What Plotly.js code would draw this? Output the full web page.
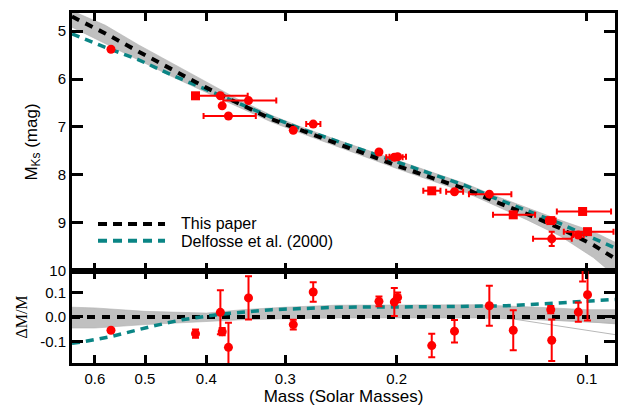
<!DOCTYPE html>
<html><head><meta charset="utf-8">
<script src="https://cdn.plot.ly/plotly-3.0.1.min.js"></script>
<style>html,body{margin:0;padding:0;background:#fff}</style>
</head><body><div id="chart" style="width:618px;height:411px"></div>
<script>
// ---- observed binaries ----
const obsMass     = [0.566, 0.416, 0.380, 0.3775, 0.369, 0.343, 0.2914, 0.271, 0.2133, 0.2017, 0.1993, 0.176, 0.162, 0.1427, 0.1308, 0.1141, 0.1137, 0.1032, 0.1016, 0.0998];
const obsMassErr  = [0.0, 0.004, 0.036, 0.0, 0.035, 0.033, 0.0, 0.007, 0.0, 0.006, 0.006, 0.0055, 0.005, 0.011, 0.010, 0.002, 0.008, 0.002, 0.010, 0.009];
const obsMks      = [5.38, 6.35, 6.35, 6.56, 6.77, 6.45, 7.07, 6.94, 7.52, 7.63, 7.62, 8.33, 8.35, 8.40, 8.83, 8.95, 9.33, 9.25, 8.76, 9.18];
const obsMksErr   = [0, 0, 0, 0, 0, 0, 0, 0, 0, 0, 0, 0, 0, 0, 0, 0, 0.15, 0, 0, 0];
const obsSymbol   = ['circle','square','circle','circle','circle','circle','circle','circle','circle','circle','circle','square','circle','circle','square','square','circle','circle','square','square'];
const obsResid    = [-0.054, -0.068, 0.019, -0.060, -0.124, 0.078, -0.031, 0.102, 0.064, 0.061, 0.080, -0.117, -0.058, 0.046, -0.054, 0.030, -0.095, 0.020, 0.22, 0.091];
const obsResidErr = [0.005, 0.017, 0.090, 0.015, 0.100, 0.088, 0.020, 0.040, 0.020, 0.057, 0.020, 0.048, 0.046, 0.082, 0.082, 0.015, 0.085, 0.039, 0.075, 0.105];

// ---- mass-luminosity relations (top panel) ----
const relMass      = [0.6523, 0.5778, 0.5117, 0.4531, 0.4016, 0.3554, 0.3150, 0.2843, 0.2519, 0.2231, 0.1975, 0.1750, 0.1550, 0.1406, 0.1246, 0.1103, 0.0977, 0.0903];
const thisPaperMks = [4.70, 5.05, 5.43, 5.80, 6.17, 6.51, 6.84, 7.06, 7.32, 7.57, 7.83, 8.07, 8.30, 8.54, 8.81, 9.11, 9.46, 9.74];
const delfosseMks  = [5.06, 5.34, 5.60, 5.92, 6.21, 6.51, 6.80, 7.03, 7.27, 7.51, 7.76, 8.00, 8.23, 8.47, 8.73, 9.01, 9.32, 9.52];
const bandMksUpper = [4.58, 4.88, 5.29, 5.67, 6.06, 6.43, 6.76, 6.99, 7.24, 7.48, 7.72, 7.96, 8.19, 8.42, 8.68, 8.94, 9.18, 9.40];
const bandMksLower = [4.92, 5.26, 5.60, 5.95, 6.27, 6.58, 6.90, 7.12, 7.38, 7.63, 7.89, 8.13, 8.37, 8.62, 8.93, 9.27, 9.72, 10.10];

// ---- residuals (bottom panel) ----
const resBandMass  = [0.6523, 0.60, 0.50, 0.40, 0.35, 0.30, 0.25, 0.20, 0.15, 0.12, 0.10, 0.0903];
const resBandUpper = [0.040, 0.037, 0.023, 0.016, 0.030, 0.040, 0.048, 0.050, 0.050, 0.040, 0.030, 0.030];
const resBandLower = [-0.045, -0.045, -0.031, -0.018, -0.011, -0.007, -0.004, -0.004, -0.004, -0.011, -0.018, -0.028];
const resZeroMass  = [0.6523, 0.0903];
const resZero      = [0.0, 0.0];
const resDelMass   = [0.6523, 0.6289, 0.5638, 0.4875, 0.4370, 0.3779, 0.3150, 0.2459, 0.1708, 0.1340, 0.1117, 0.0903];
const resDelfosse  = [-0.107, -0.102, -0.079, -0.038, -0.011, 0.012, 0.030, 0.040, 0.042, 0.046, 0.057, 0.072];
const resThinMass  = [0.134, 0.0903];
const resThinA     = [-0.004, -0.072];
const resThinB     = [-0.004, -0.026];

const xTicks = [0.6, 0.5, 0.4, 0.3, 0.2, 0.1];
const xTickText = ['0.6', '0.5', '0.4', '0.3', '0.2', '0.1'];
const yTicks = [5, 6, 7, 8, 9, 10];
const y2Ticks = [-0.1, 0.0, 0.1];
const y2TickText = ['-0.1', '0.0', '0.1'];

const RED = '#ff0000', TEAL = '#0a8585', GREY = '#c0c0c0';
const FONT = 'Liberation Sans, Arial, Helvetica, sans-serif';

const traces = [
  {x: relMass, y: bandMksLower, xaxis:'x', yaxis:'y', mode:'lines', line:{width:0.6, color:'#b0b0b0'}, hoverinfo:'skip'},
  {x: relMass, y: bandMksUpper, xaxis:'x', yaxis:'y', mode:'lines', fill:'tonexty', fillcolor:GREY, line:{width:0.6, color:'#b0b0b0'}, hoverinfo:'skip'},
  {x: relMass, y: delfosseMks, xaxis:'x', yaxis:'y', mode:'lines', line:{color:TEAL, width:3.5, dash:'8px,6px'}},
  {x: relMass, y: thisPaperMks, xaxis:'x', yaxis:'y', mode:'lines', line:{color:'black', width:4, dash:'8px,7px'}},
  {x: obsMass, y: obsMks, xaxis:'x', yaxis:'y', mode:'markers',
   marker:{color:RED, size:9, symbol:obsSymbol},
   error_x:{type:'data', array:obsMassErr, color:RED, thickness:2, width:3},
   error_y:{type:'data', array:obsMksErr, color:RED, thickness:2, width:3}},

  {x: resBandMass, y: resBandLower, xaxis:'x2', yaxis:'y2', mode:'lines', line:{width:0.6, color:'#b0b0b0'}, hoverinfo:'skip'},
  {x: resBandMass, y: resBandUpper, xaxis:'x2', yaxis:'y2', mode:'lines', fill:'tonexty', fillcolor:GREY, line:{width:0.6, color:'#b0b0b0'}, hoverinfo:'skip'},
  {x: resThinMass, y: resThinA, xaxis:'x2', yaxis:'y2', mode:'lines', line:{width:1, color:'#b8b8b8'}},
  {x: resThinMass, y: resThinB, xaxis:'x2', yaxis:'y2', mode:'lines', line:{width:1, color:'#b8b8b8'}},
  {x: resZeroMass, y: resZero, xaxis:'x2', yaxis:'y2', mode:'lines', line:{color:'black', width:4, dash:'8px,7px'}},
  {x: resDelMass, y: resDelfosse, xaxis:'x2', yaxis:'y2', mode:'lines', line:{color:TEAL, width:3.5, dash:'8px,6px'}},
  {x: obsMass, y: obsResid, xaxis:'x2', yaxis:'y2', mode:'markers',
   marker:{color:RED, size:9, symbol:'circle'},
   error_y:{type:'data', array:obsResidErr, color:RED, thickness:2, width:3.5}}
];

const xRange = [Math.log10(0.6523), Math.log10(0.0903)];
const axisCommon = {showline:true, linewidth:3, linecolor:'black', ticks:'inside', tickwidth:3, tickcolor:'black', showgrid:false, zeroline:false, mirror:'ticks'};

const layout = {
  width:618, height:411,
  margin:{l:72, r:3, t:13, b:48},
  paper_bgcolor:'white', plot_bgcolor:'white',
  font:{family:FONT, color:'black', size:15},
  showlegend:false,
  xaxis: Object.assign({}, axisCommon, {type:'log', range:xRange, domain:[0,1], anchor:'y', tickvals:xTicks, ticktext:xTickText, showticklabels:false, ticklen:8}),
  xaxis2: Object.assign({}, axisCommon, {type:'log', range:xRange, domain:[0,1], anchor:'y2', tickvals:xTicks, ticktext:xTickText, ticklen:8,
           tickfont:{size:15}, title:{text:'Mass (Solar Masses)', font:{size:17}, standoff:4}}),
  yaxis: Object.assign({}, axisCommon, {domain:[0.2629,1], range:[10, 4.625], anchor:'x', tickvals:yTicks, ticklen:11,
           tickfont:{size:15}, title:{text:'M<sub>Ks</sub> (mag)', font:{size:17}, standoff:8}}),
  yaxis2: Object.assign({}, axisCommon, {domain:[0,0.2629], range:[-0.188, 0.188], anchor:'x2', tickvals:y2Ticks, ticktext:y2TickText, ticklen:11,
           tickfont:{size:15}, title:{text:'ΔM/M', font:{size:16, family:'Liberation Serif, Times New Roman, serif'}, standoff:9}}),
  shapes:[
    {type:'line', xref:'paper', yref:'paper', x0:0.0479, x1:0.1713, y0:0.397, y1:0.397, line:{color:'black', width:4, dash:'9px,6px'}},
    {type:'line', xref:'paper', yref:'paper', x0:0.0479, x1:0.1713, y0:0.349, y1:0.349, line:{color:TEAL, width:4, dash:'9px,6px'}}
  ],
  annotations:[
    {xref:'paper', yref:'paper', x:0.197, y:0.399, xanchor:'left', yanchor:'middle', showarrow:false, text:'This paper', font:{size:16}},
    {xref:'paper', yref:'paper', x:0.197, y:0.347, xanchor:'left', yanchor:'middle', showarrow:false, text:'Delfosse et al. (2000)', font:{size:16}}
  ]
};

Plotly.newPlot('chart', traces, layout, {displayModeBar:false, staticPlot:true});
</script>
</body></html>
